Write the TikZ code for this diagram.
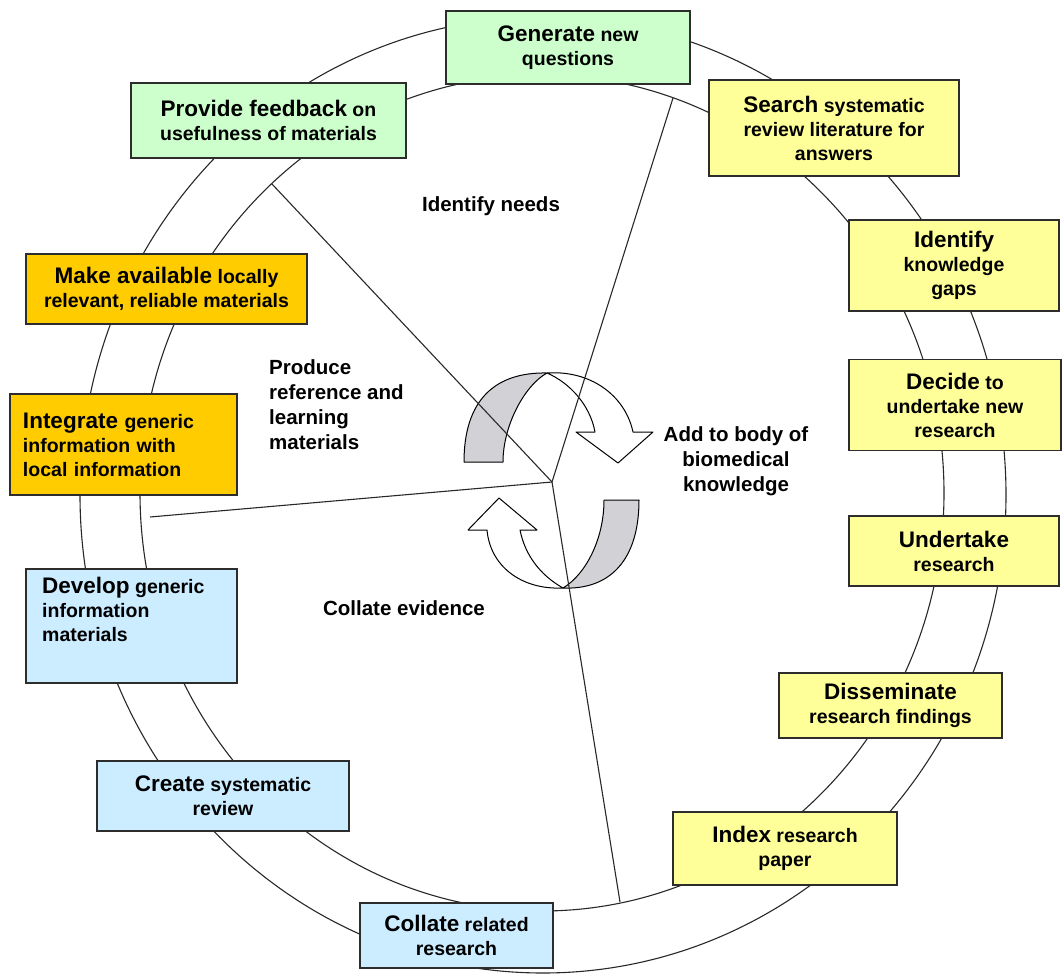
\documentclass[tikz,border=0pt]{standalone}
\usepackage{fontspec}
\setmainfont{Liberation Sans}
\definecolor{cgreen}{RGB}{204,255,204}
\definecolor{cyellow}{RGB}{255,255,153}
\definecolor{cblue}{RGB}{204,236,255}
\definecolor{corange}{RGB}{255,204,0}
\definecolor{boxline}{RGB}{45,45,45}
\definecolor{ringline}{RGB}{40,40,40}
\definecolor{ribbon}{RGB}{210,210,214}
\newcommand\smallfont{\bfseries\fontsize{19.5}{24}\selectfont}
\newcommand\lblfont{\bfseries\fontsize{20.5}{25}\selectfont}
\newcommand\keyw[1]{{\fontsize{22.5}{24}\selectfont #1}}
\begin{document}
\begin{tikzpicture}[x=1pt,y=-1pt,
  box/.style={draw=boxline, line width=1.3pt, inner sep=0pt, align=center, font=\smallfont},
  ring/.style={draw=ringline, line width=1.1pt},
  spoke/.style={draw=ringline, line width=1.1pt},
  arr/.style={draw=black, line width=1pt, line join=round},
  lbl/.style={inner sep=0pt, font=\lblfont}]
\useasboundingbox (0,0) rectangle (1062,976);
% rings
\draw[ring] (543,495) ellipse [x radius=463, y radius=478];
\draw[ring] (542,493) ellipse [x radius=402, y radius=418];
% rotating arrows
\filldraw[arr, fill=ribbon] (464,462) .. controls (464,400) and (495,372) .. (547,373)
  .. controls (525,385) and (503,425) .. (503,462) -- cycle;
\filldraw[arr, fill=white] (547,373) .. controls (590,370) and (625,395) .. (633,432)
  -- (653,432) -- (618,463) -- (576,432) -- (595,432)
  .. controls (590,405) and (570,383) .. (547,373) -- cycle;
\filldraw[arr, fill=ribbon] (639,500) .. controls (639,560) and (610,590) .. (563,588)
  .. controls (585,575) and (604,540) .. (604,500) -- cycle;
\filldraw[arr, fill=white] (563,588) .. controls (520,590) and (490,565) .. (487,530)
  -- (468,530) -- (499,498) -- (537,530) -- (520,530)
  .. controls (525,555) and (540,575) .. (563,588) -- cycle;
% spokes
\coordinate (hub) at (552,482);
\coordinate (sTR) at (673,98);
\coordinate (sUL) at (272,184);
\coordinate (sL) at (150,517);
\coordinate (sB) at (620,902);
\draw[spoke] (hub) -- (sTR);
\draw[spoke] (hub) -- (sUL);
\draw[spoke] (hub) -- (sL);
\draw[spoke] (hub) -- (sB);
% boxes
\node[box, fill=cgreen, minimum width=244pt, minimum height=73pt] (gen) at (568,47.5) {\keyw{Generate} new\\questions};
\node[box, fill=cgreen, minimum width=275pt, minimum height=75pt] (prov) at (268.5,120.5) {\keyw{Provide feedback} on\\usefulness of materials};
\node[box, fill=cyellow, minimum width=250pt, minimum height=96pt] (search) at (834,128) {\keyw{Search} systematic\\review literature for\\answers};
\node[box, fill=cyellow, minimum width=210pt, minimum height=91pt] (ident) at (954,265.5) {\keyw{Identify}\\knowledge\\gaps};
\node[box, fill=cyellow, minimum width=212pt, minimum height=91pt] (decide) at (955,405) {\keyw{Decide} to\\undertake new\\research};
\node[box, fill=cyellow, minimum width=210pt, minimum height=70pt] (under) at (954,551) {\keyw{Undertake}\\research};
\node[box, fill=cyellow, minimum width=223pt, minimum height=65pt] (dissem) at (890.5,705.5) {\keyw{Disseminate}\\research findings};
\node[box, fill=cyellow, minimum width=224pt, minimum height=73pt] (index) at (785,848.5) {\keyw{Index} research\\paper};
\node[box, fill=cblue, minimum width=193pt, minimum height=65pt] (collate) at (456.5,935.5) {\keyw{Collate} related\\research};
\node[box, fill=cblue, minimum width=252pt, minimum height=70pt] (create) at (223,796) {\keyw{Create} systematic\\review};
\node[box, fill=cblue, minimum width=211pt, minimum height=114pt] (develop) at (131.5,626) {};
\node[inner sep=0pt, anchor=north west, align=left, font=\smallfont] (developt) at (42,577) {\keyw{Develop} generic\\information\\materials};
\node[box, fill=corange, minimum width=227pt, minimum height=101pt, align=left, text width=201pt, inner xsep=13pt] (integ) at (123.5,444.5) {\keyw{Integrate} generic\\information with\\local information};
\node[box, fill=corange, minimum width=281pt, minimum height=70pt] (make) at (166.5,289) {\keyw{Make available} locally\\relevant, reliable materials};
% free labels
\node[lbl] (needs) at (491,206) {Identify needs};
\node[lbl, anchor=north west, align=left] (produce) at (269,359) {Produce\\reference and\\learning\\materials};
\node[lbl, align=center] (addto) at (736,461) {Add to body of\\biomedical\\knowledge};
\node[lbl] (evid) at (404,608) {Collate evidence};
\end{tikzpicture}
\end{document}
